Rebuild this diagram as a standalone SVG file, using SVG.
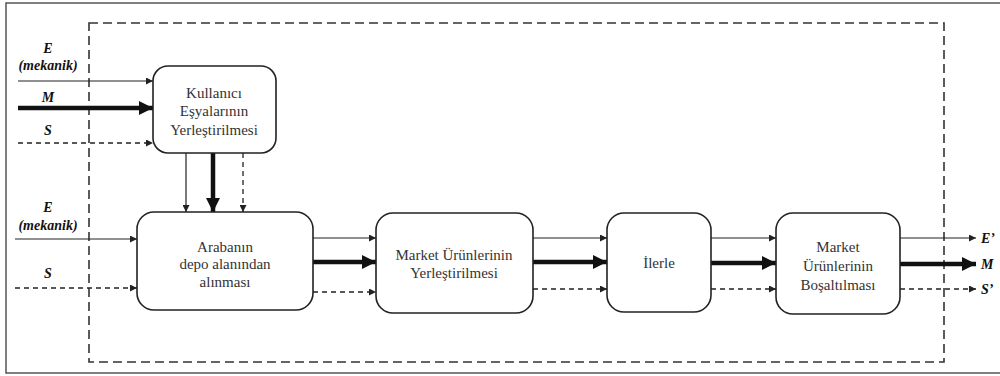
<svg xmlns="http://www.w3.org/2000/svg" width="1000" height="376" viewBox="0 0 1000 376">
<defs>
<style>
.frame{fill:#fff;stroke:#555;stroke-width:1.5}
.sys{fill:none;stroke:#333;stroke-width:1.6;stroke-dasharray:9,5}
.box{fill:#fff;stroke:#222;stroke-width:1.6}
.t{font-family:"Liberation Serif","Times New Roman",serif;font-size:15px;fill:#333;text-anchor:middle}
.lab{font-family:"Liberation Serif","Times New Roman",serif;font-size:14px;font-weight:bold;font-style:italic;fill:#111;text-anchor:middle}
.labl{font-family:"Liberation Serif","Times New Roman",serif;font-size:14px;font-weight:bold;font-style:italic;fill:#111}
.thin{stroke:#222;stroke-width:1.2;fill:none;marker-end:url(#ah)}
.thick{stroke:#111;stroke-width:4.5;fill:none;marker-end:url(#ahb)}
.dash{stroke:#222;stroke-width:1.3;fill:none;stroke-dasharray:5,4;marker-end:url(#ah)}
</style>
<marker id="ah" markerUnits="userSpaceOnUse" markerWidth="8" markerHeight="7" refX="7" refY="3.5" orient="auto"><path d="M0,0 L7,3.5 L0,7 z" fill="#222"/></marker>
<marker id="ahb" markerUnits="userSpaceOnUse" markerWidth="15" markerHeight="14" refX="14" refY="7" orient="auto"><path d="M0,0 L14,7 L0,14 z" fill="#111"/></marker>
</defs>
<rect class="frame" x="6" y="3" width="1000" height="370"/>
<rect class="sys" x="89" y="23" width="855" height="339"/>

<g id="connectors">
<line class="thin" x1="18" y1="81" x2="153" y2="81"/>
<line class="thick" x1="18" y1="108" x2="153" y2="108"/>
<line class="dash" x1="18" y1="143" x2="153" y2="143"/>
<line class="thin" x1="186" y1="153" x2="186" y2="212"/>
<line class="thick" x1="213" y1="153" x2="213" y2="212"/>
<line class="dash" x1="243" y1="153" x2="243" y2="212"/>
<line class="thin" x1="15" y1="239" x2="137" y2="239"/>
<line class="dash" x1="15" y1="288" x2="137" y2="288"/>
<line class="thin" x1="313" y1="238" x2="376" y2="238"/>
<line class="thick" x1="313" y1="262" x2="376" y2="262"/>
<line class="dash" x1="313" y1="292" x2="376" y2="292"/>
<line class="thin" x1="533" y1="238" x2="607" y2="238"/>
<line class="thick" x1="533" y1="262" x2="607" y2="262"/>
<line class="dash" x1="533" y1="289" x2="607" y2="289"/>
<line class="thin" x1="711" y1="238" x2="776" y2="238"/>
<line class="thick" x1="711" y1="263" x2="776" y2="263"/>
<line class="dash" x1="711" y1="289" x2="776" y2="289"/>
<line class="thin" x1="900" y1="238" x2="976" y2="238"/>
<line class="thick" x1="900" y1="264" x2="976" y2="264"/>
<line class="dash" x1="900" y1="289" x2="976" y2="289"/>
</g>

<g id="labels">
<text class="lab" x="48" y="53">E</text>
<text class="lab" x="48" y="70">(mekanik)</text>
<text class="lab" x="48" y="102">M</text>
<text class="lab" x="48" y="135">S</text>
<text class="lab" x="48" y="212">E</text>
<text class="lab" x="48" y="230">(mekanik)</text>
<text class="lab" x="48" y="278">S</text>
<text class="labl" x="981" y="243">E’</text>
<text class="labl" x="981" y="269">M</text>
<text class="labl" x="981" y="294">S’</text>
</g>

<g id="n1">
<rect class="box" x="153" y="66" width="123" height="87" rx="15"/>
<text class="t" x="214" y="98">Kullanıcı</text>
<text class="t" x="214" y="116">Eşyalarının</text>
<text class="t" x="214" y="135">Yerleştirilmesi</text>
</g>
<g id="n2">
<rect class="box" x="137" y="212" width="176" height="98" rx="17"/>
<text class="t" x="225" y="252">Arabanın</text>
<text class="t" x="225" y="269">depo alanından</text>
<text class="t" x="225" y="287">alınması</text>
</g>
<g id="n3">
<rect class="box" x="376" y="213" width="157" height="100" rx="17"/>
<text class="t" x="454" y="260">Market Ürünlerinin</text>
<text class="t" x="454" y="278">Yerleştirilmesi</text>
</g>
<g id="n4">
<rect class="box" x="607" y="213" width="104" height="99" rx="17"/>
<text class="t" x="659" y="268">İlerle</text>
</g>
<g id="n5">
<rect class="box" x="776" y="213" width="124" height="101" rx="17"/>
<text class="t" x="838" y="252">Market</text>
<text class="t" x="838" y="271">Ürünlerinin</text>
<text class="t" x="838" y="290">Boşaltılması</text>
</g>
</svg>
